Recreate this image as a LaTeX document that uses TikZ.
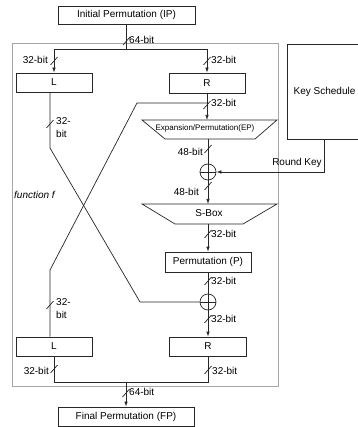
\documentclass[tikz,border=0pt]{standalone}
\usepackage{fontspec}
\setmainfont{Liberation Sans}
\usetikzlibrary{arrows.meta}
\begin{document}
\begin{tikzpicture}[x=1pt,y=-1pt,
  wire/.style={draw=black!85, line width=0.7pt},
  arr/.style={wire,-{Latex[length=5pt,width=3.5pt]}},
  box/.style={draw=black!85, line width=0.7pt, inner sep=0pt, font=\fontsize{10}{12}\selectfont},
  lbl/.style={inner sep=0pt, font=\fontsize{10}{13}\selectfont},
  xorc/.style={draw=black!85, line width=0.7pt, circle, minimum size=16pt, inner sep=0pt},
  bitslash/.pic={\draw[wire] (-3.5,4) -- (3.5,-4);},
  ]
\useasboundingbox (0,0) rectangle (357,427);
% outer round frame
\draw[gray!70, line width=1pt] (12,44) rectangle (278,386);
% boxes
\node[box, minimum width=137pt, minimum height=18pt] (ip) at (126.5,15) {Initial Permutation (IP)};
\node[box, minimum width=136pt, minimum height=19pt] (fp) at (126,416.5) {Final Permutation (FP)};
\node[box, minimum width=76pt, minimum height=19pt] (lt) at (54,82.5) {L};
\node[box, minimum width=76pt, minimum height=20pt] (rt) at (207,83) {R};
\node[box, minimum width=76pt, minimum height=19pt] (lb) at (54,346.5) {L};
\node[box, minimum width=77pt, minimum height=19pt] (rb) at (208,346.5) {R};
\node[box, minimum width=75pt, minimum height=95pt] (ks) at (324.5,91.5) {Key Schedule};
\node[box, minimum width=86pt, minimum height=20pt] (p) at (208,262) {Permutation (P)};
% trapezoids
\draw[wire] (142,120) -- (277,120) -- (255,139) -- (165,139) -- cycle;
\node[lbl, font=\fontsize{8}{10}\selectfont] (ep) at (205,128) {Expansion/Permutation(EP)};
\coordinate (eptop) at (208,120);
\coordinate (epbot) at (208,139);
\draw[wire] (142,204) -- (277,204) -- (243,224) -- (175,224) -- cycle;
\node[lbl] (sb) at (209,213.5) {S-Box};
\coordinate (sbtop) at (208,204);
\coordinate (sbbot) at (208,224);
% xor
\node[xorc] (x1) at (208,172) {};
\draw[wire] (x1.north) -- (x1.south) (x1.west) -- (x1.east);
\node[xorc] (x2) at (208,302) {};
\draw[wire] (x2.north) -- (x2.south) (x2.west) -- (x2.east);
% top split
\coordinate (jt) at (126.5,49);
\draw[wire] (ip.south) -- (jt);
\draw[wire] (lt.north |- jt) -- (rt.north |- jt);
\draw[arr] (lt.north |- jt) -- (lt.north);
\draw[arr] (rt.north |- jt) -- (rt.north);
% R -> EP and branch
\coordinate (jr) at (207,103);
\draw[arr] (rt.south) -- (rt.south |- eptop);
\coordinate (b1) at (137,103);
\coordinate (b2) at (50,270);
\draw[wire] (jr) -- (b1) -- (b2) -- (b2 |- lb.north);
% L -> x2
\coordinate (a1) at (50,148);
\coordinate (a2) at (140,302);
\draw[wire] (lt.south -| a1) -- (a1) -- (a2) -- (x2.west);
% round function
\draw[wire] (epbot) -- (x1.north);
\draw[arr] (x1.south) -- (sbtop);
\draw[arr] (sbbot) -- (p.north);
\draw[wire] (p.south) -- (x2.north);
\draw[arr] (x2.south) -- (rb.north);
\draw[arr] (ks.south) |- (x1.east);
\node[lbl] (rk) at (297,163) {Round Key};
% bottom join
\coordinate (jb) at (126,382);
\draw[wire] (lb.south) -- (lb.south |- jb) -- (rb.south |- jb) -- (rb.south);
\draw[arr] (jb) -- (fp.north);
% slashes and labels
\pic at (126.5,41) {bitslash};
\node[lbl, anchor=west] (l64a) at (129,40) {64-bit};
\pic at (54,61) {bitslash};
\node[lbl, anchor=east] (l32a) at (48,60) {32-bit};
\pic at (207,61) {bitslash};
\node[lbl, anchor=west] (l32b) at (211,60) {32-bit};
\pic at (50,124) {bitslash};
\node[lbl, anchor=west, align=left] (l32c) at (56,128) {32-\\bit};
\pic at (207,105) {bitslash};
\node[lbl, anchor=west] (l32d) at (211,103) {32-bit};
\pic at (208,149) {bitslash};
\node[lbl, anchor=east] (l48a) at (203,152) {48-bit};
\pic at (208,186) {bitslash};
\node[lbl, anchor=east] (l48b) at (199,192) {48-bit};
\pic at (208,234) {bitslash};
\node[lbl, anchor=west] (l32e) at (211,234) {32-bit};
\pic at (208,281) {bitslash};
\node[lbl, anchor=west] (l32f) at (211,281) {32-bit};
\pic at (208,319) {bitslash};
\node[lbl, anchor=west] (l32g) at (211,319) {32-bit};
\pic at (50,305) {bitslash};
\node[lbl, anchor=west, align=left] (l32h) at (56,309) {32-\\bit};
\pic at (54,369) {bitslash};
\node[lbl, anchor=east] (l32i) at (49,371) {32-bit};
\pic at (208,370) {bitslash};
\node[lbl, anchor=west] (l32j) at (212,371) {32-bit};
\pic at (126,393) {bitslash};
\node[lbl, anchor=west] (l64b) at (129,392) {64-bit};
\node[lbl, anchor=west, font=\itshape\fontsize{10}{12}\selectfont] (ff) at (14,195) {function f};
\end{tikzpicture}
\end{document}
